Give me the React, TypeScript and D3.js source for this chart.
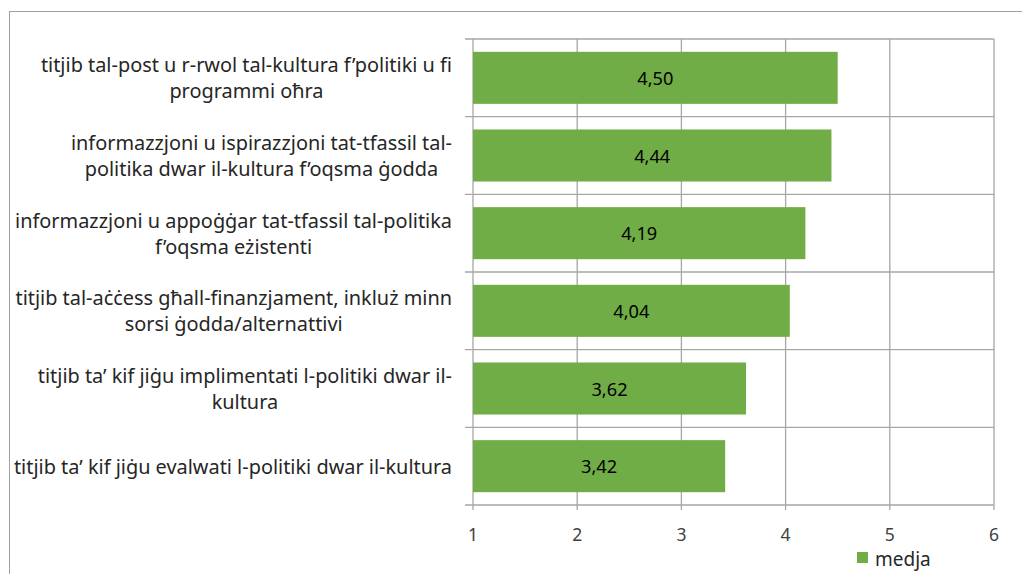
import React from "react";
import * as d3 from "d3";

const categories: string[] = [
  "titjib tal-post u r-rwol tal-kultura f’politiki u fi\nprogrammi oħra",
  "informazzjoni u ispirazzjoni tat-tfassil tal-\npolitika dwar il-kultura f’oqsma ġodda",
  "informazzjoni u appoġġar tat-tfassil tal-politika\nf’oqsma eżistenti",
  "titjib tal-aċċess għall-finanzjament, inkluż minn\nsorsi ġodda/alternattivi",
  "titjib ta’ kif jiġu implimentati l-politiki dwar il-\nkultura",
  "titjib ta’ kif jiġu evalwati l-politiki dwar il-kultura",
];
const values: number[] = [4.5, 4.44, 4.19, 4.04, 3.62, 3.42];
const valueLabels: string[] = ["4,50", "4,44", "4,19", "4,04", "3,62", "3,42"];
const xTicks: number[] = [1, 2, 3, 4, 5, 6];
const seriesName = "medja";

const W = 1022;
const H = 574;
const FONT = "'Noto Sans', 'Open Sans', sans-serif";
const FS_CAT = 19.9;
const FS_VAL = 18.2;
const FS_TICK = 17.5;
const FS_LEG = 19;
const BAR = "#70AD47";
const GRID = "#A6A6A6";
const TEXT = "#262626";

let ctx: CanvasRenderingContext2D | null = null;
function measure(s: string, fs: number): number {
  if (!ctx) {
    const c = document.createElement("canvas");
    ctx = c.getContext("2d");
  }
  if (!ctx) return s.length * fs * 0.5;
  ctx.font = `${fs}px ${FONT}`;
  return ctx.measureText(s).width;
}

export default function App() {
  const left = 473, right = 994, top = 39, bottom = 505;
  const x = d3.scaleLinear().domain([1, 6]).range([left, right]);
  const y = d3
    .scaleBand<number>()
    .domain(d3.range(categories.length))
    .range([top, bottom])
    .paddingInner(0.33)
    .paddingOuter(0.165);
  const step = y.step();
  const bounds = d3.range(categories.length + 1).map((i) => top + i * step);
  const labelRight = 452;
  const lineH = 26;

  return (
    <svg
      width={W}
      height={H}
      style={{ position: "absolute", left: 0, top: 0, fontFamily: FONT }}
    >
      <rect x={0} y={0} width={W} height={H} fill="#fff" />
      {/* outer chart border */}
      <rect x={9.5} y={11.5} width={W + 10} height={H + 10} fill="none" stroke="#A0A0A0" strokeWidth={1} />

      {/* horizontal gridlines at category boundaries */}
      {bounds.map((b, i) => (
        <line key={"h" + i} x1={left - 8} x2={right} y1={b} y2={b} stroke={GRID} strokeWidth={1.3} />
      ))}
      {/* vertical gridlines */}
      {xTicks.map((t) => (
        <line key={"v" + t} x1={x(t)} x2={x(t)} y1={top} y2={bottom + 5} stroke={GRID} strokeWidth={1.3} />
      ))}

      {/* bars */}
      {values.map((v, i) => (
        <g key={"b" + i}>
          <rect
            x={x(1)}
            y={y(i)!}
            width={x(v) - x(1)}
            height={y.bandwidth()}
            fill={BAR}
          />
          <text
            x={(x(1) + x(v)) / 2}
            y={y(i)! + y.bandwidth() / 2}
            textAnchor="middle"
            dominantBaseline="central"
            fontSize={FS_VAL}
            fill="#000"
          >
            {valueLabels[i]}
          </text>
        </g>
      ))}

      {/* category labels */}
      {categories.map((c, i) => {
        const lines = c.split("\n");
        const maxW = Math.max(...lines.map((l) => measure(l, FS_CAT)));
        const cx = labelRight - maxW / 2;
        const cy = y(i)! + y.bandwidth() / 2;
        const y0 = cy - ((lines.length - 1) * lineH) / 2;
        return (
          <text key={"c" + i} textAnchor="middle" fontSize={FS_CAT} fill={TEXT}>
            {lines.map((l, j) => (
              <tspan key={j} x={cx} y={y0 + j * lineH} dominantBaseline="central">
                {l}
              </tspan>
            ))}
          </text>
        );
      })}

      {/* x tick labels */}
      {xTicks.map((t) => (
        <text
          key={"t" + t}
          x={x(t)}
          y={534}
          textAnchor="middle"
          dominantBaseline="central"
          fontSize={FS_TICK}
          fill="#404040"
        >
          {t}
        </text>
      ))}

      {/* legend */}
      <rect x={857} y={552} width={11} height={11} fill={BAR} />
      <text x={875} y={558.5} dominantBaseline="central" fontSize={FS_LEG} fill={TEXT}>
        {seriesName}
      </text>
    </svg>
  );
}
